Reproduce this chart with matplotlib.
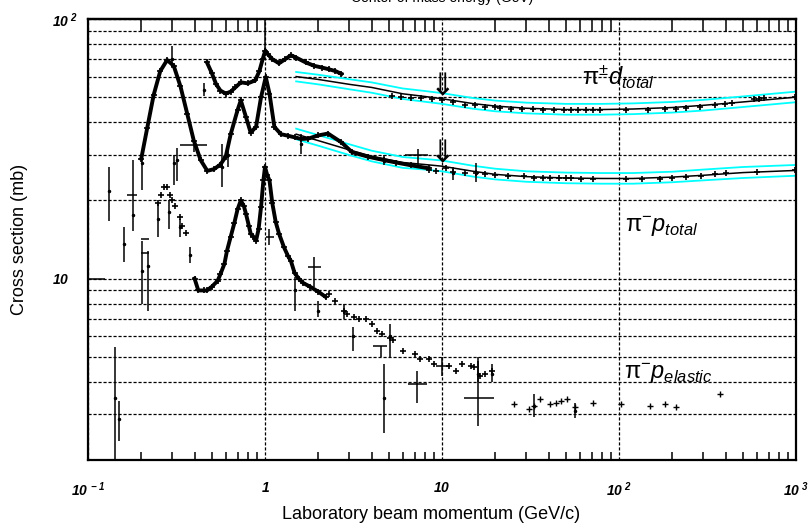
import numpy as np
import matplotlib
matplotlib.use('Agg')
import matplotlib.pyplot as plt
from matplotlib.ticker import LogLocator, NullFormatter, FixedLocator

plt.rcParams['font.family'] = ['Liberation Sans', 'DejaVu Sans']
plt.rcParams['mathtext.fontset'] = 'custom'
plt.rcParams['mathtext.rm'] = 'Liberation Sans'
plt.rcParams['mathtext.it'] = 'Liberation Sans:italic'
plt.rcParams['mathtext.bf'] = 'Liberation Sans:italic:bold'

# pi+- d total, resonance region (dense data)
pd_x = [0.47, 0.5, 0.53, 0.56, 0.6, 0.64, 0.68, 0.73, 0.8, 0.88, 0.93, 0.97, 1.0, 1.04,
        1.1, 1.2, 1.3, 1.4, 1.5, 1.7, 1.9, 2.1, 2.3, 2.5, 2.7]
pd_y = [68, 62, 56, 53, 51.6, 52.5, 54.5, 57, 56.5, 58, 63, 70, 75, 73,
        70, 67.5, 70, 72.5, 71, 68, 66, 65, 64, 63, 61.5]

# pi- p total, resonance region (dense data)
pp_x = [0.2, 0.216, 0.235, 0.256, 0.28, 0.305, 0.333, 0.364, 0.396, 0.433, 0.472, 0.515,
        0.56, 0.6, 0.64, 0.7, 0.73, 0.78, 0.83, 0.89, 0.95, 1.01, 1.06, 1.13, 1.23, 1.35,
        1.47, 1.6, 1.75, 2.0, 2.27, 2.7, 3.1, 3.8, 4.7, 5.5, 6.7, 8.4]
pp_y = [29, 38, 51, 63, 69.5, 66, 55, 43, 34, 28.6, 26, 26.4,
        27.5, 29.5, 36, 44.6, 48.6, 42, 36.5, 38.4, 50, 59.8, 51.6, 38.4, 36, 35.5,
        35, 34.5, 34.6, 35.6, 36.2, 33.5, 30.7, 29.5, 28.6, 28.0, 27.3, 26.6]

# pi- p elastic, resonance region (dense data)
el_x = [0.4, 0.42, 0.45, 0.47, 0.5, 0.54, 0.56, 0.59, 0.61, 0.64, 0.67, 0.70, 0.73, 0.76,
        0.78, 0.81, 0.83, 0.86, 0.89, 0.92, 0.95, 0.98, 1.0, 1.03, 1.06, 1.1, 1.15, 1.2,
        1.28, 1.35, 1.4, 1.47, 1.55, 1.65, 1.8, 2.0, 2.2]
el_y = [10.0, 9.0, 9.0, 9.0, 9.3, 9.8, 10.4, 11.4, 12.8, 14.5, 16.3, 18.5, 20.0, 19.0,
        17.8, 16.0, 14.9, 14.5, 14.0, 15.5, 18.9, 24, 26.9, 25, 23.9, 19.5, 16.5, 14.9,
        13.2, 12.2, 11.7, 10.5, 10.0, 9.6, 9.3, 8.9, 8.5]

el_low_x = [0.25, 0.26, 0.27, 0.28, 0.29, 0.3, 0.31, 0.33, 0.34, 0.36]
el_low_y = [19.5, 21, 22.5, 22.5, 21, 20, 19, 17.2, 16, 15]

el_mid_x = [2.3, 2.5, 2.8, 2.9, 3.2, 3.4, 3.7, 4.0, 4.3, 4.6, 5.1, 5.3, 6.0, 7.0, 7.5, 8.4,
            9.0, 11, 12, 13, 14.5, 15.1, 16.4, 17.5, 19.2]
el_mid_y = [8.7, 8.2, 7.5, 7.3, 7.1, 7.0, 7.0, 6.7, 6.3, 6.1, 5.9, 5.8, 5.27, 5.1, 4.9, 4.9,
            4.7, 4.6, 4.4, 4.7, 4.6, 4.55, 4.2, 4.3, 4.4]

el_hi_x = [25.6, 31, 33.1, 36, 40.6, 44.3, 47, 50.6, 56.6, 71.4, 103, 149, 181, 210, 373]
el_hi_y = [3.30, 3.15, 3.24, 3.45, 3.30, 3.33, 3.38, 3.43, 3.19, 3.33, 3.28, 3.24, 3.28, 3.19, 3.6]

# high-energy data along the fits
pdh_x = [5.2, 5.9, 6.7, 7.6, 8.8, 10.0, 11.5, 13.5, 15.4, 17.6, 19.9, 21.3, 24.5, 28.3, 32.5,
         37.3, 42.7, 48.9, 53.7, 58.9, 65, 71, 78, 110, 145, 183, 210, 240, 287, 347, 398,
         436, 580, 620, 660, 990]
pdh_y = [50.5, 50.0, 49.8, 49.6, 49.2, 48.8, 47.8, 46.8, 46.6, 45.9, 45.8, 45.3, 45.2, 45.0,
         45.2, 44.6, 44.5, 44.6, 44.8, 44.8, 44.7, 44.6, 44.6, 44.6, 44.8, 45.0, 45.2, 45.5,
         45.9, 46.5, 47.2, 47.5, 49.3, 49.3, 49.4, 50.2]
pph_x = [8.4, 9.3, 10.5, 11.6, 13.5, 15.6, 17.5, 19.9, 23.7, 29.2, 33, 37.3, 41, 45.7, 50,
         53.7, 60.7, 71.3, 110, 135, 170, 200, 240, 290, 347, 400, 600, 990]
pph_y = [26.3, 26.0, 26.6, 25.7, 25.5, 25.6, 25.3, 25.0, 24.9, 24.8, 24.5, 24.3, 24.4, 24.3,
         24.3, 24.4, 24.2, 24.2, 24.1, 24.1, 24.2, 24.4, 24.6, 24.8, 25.2, 25.4, 25.7, 26.1]

# fits and their bands
fit_x = [1.5, 2, 3, 4, 6, 8, 10, 15, 20, 30, 50, 80, 120, 200, 300, 500, 1000]
fit_pd = [60, 58.5, 56, 54.5, 51.5, 50.3, 49.3, 47.2, 46.2, 45.3, 44.8, 44.8, 45.0, 45.6, 46.5, 47.9, 50.0]
fit_pd_hi = [62.5, 61, 58.6, 57, 54, 52.8, 51.8, 49.6, 48.5, 47.6, 47.1, 47.1, 47.3, 47.9, 48.8, 50.3, 52.5]
fit_pd_lo = [57.5, 56, 53.6, 52, 49.2, 48, 47.1, 45.1, 44.1, 43.3, 42.8, 42.8, 43.0, 43.6, 44.4, 45.8, 47.8]
fit_pp = [36, 34, 31.3, 29.6, 28.0, 27.5, 27.1, 25.9, 25.2, 24.7, 24.4, 24.3, 24.3, 24.6, 25.0, 25.6, 26.1]
fit_pp_hi = [37.8, 35.7, 32.9, 31.1, 29.4, 28.9, 28.5, 27.2, 26.5, 25.9, 25.6, 25.5, 25.5, 25.8, 26.3, 26.9, 27.4]
fit_pp_lo = [34.4, 32.5, 29.9, 28.3, 26.7, 26.3, 25.9, 24.7, 24.1, 23.6, 23.3, 23.2, 23.2, 23.5, 23.9, 24.4, 24.9]

# isolated points with vertical error bars: x, y, low, high
eb_x = [0.1316, 0.142, 0.149, 0.16, 0.179, 0.202, 0.202, 0.217, 0.248, 0.286, 0.298, 0.305,
        0.319, 0.333, 0.376, 0.45, 0.575, 0.62, 1.0, 1.47, 1.6, 1.99, 2.8, 3.13, 4.7, 5.1,
        16.0, 19.2, 33.1, 56.6, 15.6, 11.6, 4.7]
eb_y = [21.7, 3.48, 2.87, 13.6, 17.5, 27.8, 10.7, 11.2, 17.0, 18.0, 70, 28, 28.6, 15.8, 12.3,
        53.5, 27, 30, 76, 9.0, 33, 7.5, 7.5, 6.0, 3.48, 6.0, 4.3, 4.3, 3.24, 3.1, 25.6, 25.5, 28.5]
eb_lo = [16.7, 2.0, 2.37, 11.6, 15.3, 21.9, 8.0, 7.5, 14.4, 15.5, 65, 23, 23.8, 14.5, 11.5,
         50.6, 22.5, 27, 72, 7.5, 30.3, 7.1, 7.0, 5.27, 2.55, 5.0, 4.0, 4.0, 2.92, 2.91, 23.5, 24.0, 27.3]
eb_hi = [26.9, 5.43, 3.38, 15.8, 28.6, 31.2, 14.0, 12.8, 19.5, 20.0, 79, 30, 31.8, 17.0, 13.2,
         56.5, 33, 33.5, 100, 10.1, 36.2, 8.2, 8.0, 6.49, 4.69, 6.7, 4.8, 4.7, 3.59, 3.33, 27.8, 26.8, 30.0]

# points with both x and y error bars
cr_x = [0.177, 0.21, 0.21, 0.396, 1.9, 4.5, 7.2, 10.0, 16.0, 7.3, 1.06]
cr_y = [20.9, 14.2, 12.6, 32.6, 11.05, 5.5, 3.92, 4.6, 3.48, 29.8, 14.4]
cr_xlo = [0.166, 0.198, 0.198, 0.333, 1.75, 4.1, 6.4, 9.2, 13.3, 6.2, 1.01]
cr_xhi = [0.189, 0.222, 0.222, 0.472, 2.08, 4.9, 8.2, 11.1, 19.6, 8.3, 1.13]
cr_ylo = [20.9, 14.2, 12.6, 30.6, 9.26, 5.0, 3.33, 4.2, 2.70, 27.5, 13.5]
cr_yhi = [20.9, 14.2, 12.6, 35.2, 12.1, 5.5, 4.41, 5.0, 4.98, 31.5, 15.5]

fig = plt.figure(figsize=(8.12, 5.27), dpi=100)
ax = fig.add_axes([88 / 812, 1 - 460 / 527, (796 - 88) / 812, (460 - 19) / 527])
ax.set_xscale('log')
ax.set_yscale('log')
ax.set_xlim(0.1, 1000)
ax.set_ylim(2, 100)

# grid
ax.yaxis.set_minor_locator(LogLocator(base=10, subs=np.arange(2, 10)))
ax.xaxis.set_minor_locator(LogLocator(base=10, subs=np.arange(2, 10)))
ax.grid(True, which='both', axis='y', color='black', linestyle=(0, (2.5, 1.5)), lw=0.9)
ax.grid(True, which='major', axis='x', color='black', linestyle=(0, (2.5, 1.5)), lw=0.9)
ax.set_axisbelow(True)

# cyan bands and fits
ax.plot(fit_x, fit_pd_hi, color='cyan', lw=1.3)
ax.plot(fit_x, fit_pd_lo, color='cyan', lw=1.3)
ax.plot(fit_x, fit_pp_hi, color='cyan', lw=1.3)
ax.plot(fit_x, fit_pp_lo, color='cyan', lw=1.3)
ax.plot(fit_x, fit_pd, color='black', lw=1.1)
ax.plot(fit_x, fit_pp, color='black', lw=1.1)

# dense data curves
for xs, ys in [(pd_x, pd_y), (pp_x, pp_y), (el_x, el_y)]:
    ax.plot(xs, ys, color='black', lw=2.8, marker='+', ms=5, mew=1.2)
ax.plot(el_low_x, el_low_y, ls='none', color='black', marker='+', ms=5, mew=1.2)
ax.plot(el_mid_x, el_mid_y, ls='none', color='black', marker='+', ms=5, mew=1.2)
ax.plot(el_hi_x, el_hi_y, ls='none', color='black', marker='+', ms=4, mew=1.0)
ax.plot(pdh_x, pdh_y, ls='none', color='black', marker='+', ms=4, mew=1.2)
ax.plot(pph_x, pph_y, ls='none', color='black', marker='+', ms=4, mew=1.2)

eb_y_arr = np.array(eb_y)
ax.errorbar(eb_x, eb_y, yerr=[eb_y_arr - np.array(eb_lo), np.array(eb_hi) - eb_y_arr],
            fmt='.', ms=3, color='black', ecolor='black', elinewidth=1.1, capsize=0)
cr_x_arr = np.array(cr_x)
cr_y_arr = np.array(cr_y)
ax.errorbar(cr_x, cr_y,
            xerr=[cr_x_arr - np.array(cr_xlo), np.array(cr_xhi) - cr_x_arr],
            yerr=[cr_y_arr - np.array(cr_ylo), np.array(cr_yhi) - cr_y_arr],
            fmt='none', ecolor='black', elinewidth=1.1, capsize=0)

# arrows at 10 GeV/c
ax.text(10, 55, '\u21d3', ha='center', va='center', fontsize=22, family='DejaVu Sans')
ax.text(10, 30.3, '\u21d3', ha='center', va='center', fontsize=22, family='DejaVu Sans')

# curve labels
ax.text(62, 55.6, r'$\mathrm{\pi}^{\pm}\mathit{d}_{\mathit{total}}$', fontsize=17,
        ha='left', va='baseline')
ax.text(108, 15.1, r'$\mathrm{\pi}^{-}\mathit{p}_{\mathit{total}}$', fontsize=17,
        ha='left', va='baseline')
ax.text(107, 4.1, r'$\mathrm{\pi}^{-}\mathit{p}_{\mathit{elastic}}$', fontsize=17,
        ha='left', va='baseline')

# ticks
ax.set_xticks([0.1, 1, 10, 100, 1000])
ax.set_xticklabels([r'$\mathbf{10^{\ -1}}$', r'$\mathbf{1}$', r'$\mathbf{10}$',
                    r'$\mathbf{10^{\ 2}}$', r'$\mathbf{10^{\ 3}}$'], fontsize=10)
ax.yaxis.set_major_locator(FixedLocator([10, 100]))
ax.set_yticklabels([r'$\mathbf{10}$', r'$\mathbf{10^{\ 2}}$'], fontsize=10)
for lab in ax.get_yticklabels():
    lab.set_horizontalalignment('left')
ax.xaxis.set_minor_formatter(NullFormatter())
ax.yaxis.set_minor_formatter(NullFormatter())
ax.tick_params(axis='x', which='major', direction='in', length=0, pad=15)
ax.tick_params(axis='x', which='minor', direction='in', length=6, width=1.1, bottom=True, top=False)
ax.tick_params(axis='y', which='major', direction='in', length=12.5, width=1.1, pad=26)
ax.tick_params(axis='y', which='minor', length=0)

top = ax.secondary_xaxis('top')
top.xaxis.set_minor_locator(LogLocator(base=10, subs=np.arange(2, 10)))
top.xaxis.set_minor_formatter(NullFormatter())
top.set_xticks([])
top.tick_params(which='minor', direction='in', length=9, width=1.1)

for sp in ax.spines.values():
    sp.set_linewidth(1.6)
top.spines['top'].set_linewidth(1.6)

ax.set_xlabel('Laboratory beam momentum (GeV/c)', fontsize=13)
ax.xaxis.set_label_coords(0.4845, -0.104)
ax.set_ylabel('Cross section (mb)', fontsize=13)
ax.yaxis.set_label_coords(-0.085, 0.5)

fig.text(442 / 812, 1 - 2 / 527, 'Center of mass energy (GeV)', ha='center',
         va='baseline', fontsize=10)

fig.savefig('out.png', dpi=100)
